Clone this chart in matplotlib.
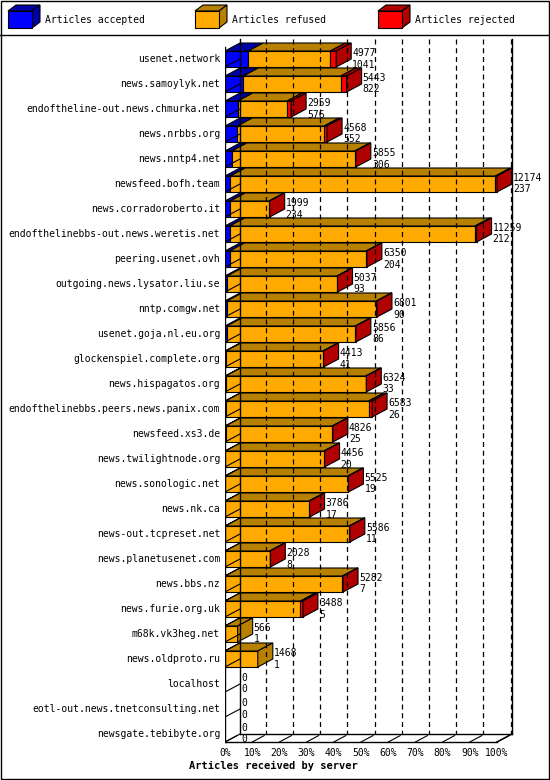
import matplotlib.pyplot as plt
from matplotlib.patches import Polygon, Rectangle

names = ["usenet.network", "news.samoylyk.net", "endoftheline-out.news.chmurka.net",
         "news.nrbbs.org", "news.nntp4.net", "newsfeed.bofh.team", "news.corradoroberto.it",
         "endofthelinebbs-out.news.weretis.net", "peering.usenet.ovh",
         "outgoing.news.lysator.liu.se", "nntp.comgw.net", "usenet.goja.nl.eu.org",
         "glockenspiel.complete.org", "news.hispagatos.org",
         "endofthelinebbs.peers.news.panix.com", "newsfeed.xs3.de", "news.twilightnode.org",
         "news.sonologic.net", "news.nk.ca", "news-out.tcpreset.net", "news.planetusenet.com",
         "news.bbs.nz", "news.furie.org.uk", "m68k.vk3heg.net", "news.oldproto.ru",
         "localhost", "eotl-out.news.tnetconsulting.net", "newsgate.tebibyte.org"]
total = [4977, 5443, 2959, 4568, 5855, 12174, 1999, 11259, 6350, 5037, 6801, 5856, 4413,
         6324, 6583, 4826, 4456, 5525, 3786, 5586, 2028, 5282, 3488, 566, 1468, 0, 0, 0]
accepted = [1041, 822, 576, 552, 306, 237, 234, 212, 204, 93, 90, 86, 41, 33, 26, 25, 20,
            19, 17, 11, 8, 7, 5, 1, 1, 0, 0, 0]
rejected = [260, 260, 180, 130, 40, 70, 25, 70, 30, 25, 25, 25, 25, 25, 150, 25, 25, 25,
            25, 25, 25, 25, 110, 0, 0, 0, 0, 0]

front = {"acc": "#0000ff", "ref": "#ffaa00", "rej": "#ff0000"}
dark = {"acc": "#0000a8", "ref": "#b88000", "rej": "#b00000"}
mono = "DejaVu Sans Mono"

W, H = 550, 780
fig = plt.figure(figsize=(5.5, 7.8), dpi=100)
# frame + legend in pixel coordinates
bg = fig.add_axes([0, 0, 1, 1])
bg.set_xlim(0, W)
bg.set_ylim(H, 0)
bg.axis("off")
bg.add_patch(Rectangle((0.5, 0.5), W - 1.5, H - 1.5, fill=False, lw=1, ec="black"))
bg.plot([0, W], [35, 35], color="black", lw=1)
for lx, lab, k in [(8, "Articles accepted", "acc"), (195, "Articles refused", "ref"),
                   (378, "Articles rejected", "rej")]:
    bg.add_patch(Polygon([(lx, 11), (lx + 8, 5), (lx + 32, 5), (lx + 24, 11)],
                         fc=dark[k], ec="black", lw=0.8))
    bg.add_patch(Polygon([(lx + 24, 11), (lx + 32, 5), (lx + 32, 22), (lx + 24, 28)],
                         fc=dark[k], ec="black", lw=0.8))
    bg.add_patch(Rectangle((lx, 11), 24, 17, fc=front[k], ec="black", lw=0.8))
    bg.text(lx + 37, 20, lab, fontsize=7, family=mono, va="center")
bg.text(273, 766, "Articles received by server", fontsize=7.5, family=mono,
        weight="bold", ha="center", va="center")

# chart axes: x in percent, y in row index
px = 2.72  # pixels per percent
row = 25.0
x0p, x1p, y0p, y1p = 225, 530, 38, 748
ax = fig.add_axes([x0p / W, 1 - y1p / H, (x1p - x0p) / W, (y1p - y0p) / H])
ax.set_xlim(0, (x1p - x0p) / px)
ax.set_ylim((y1p - 59) / row, -(59 - y0p) / row)
ax.axis("off")

n = len(names)
dx = 15 / px
dy = 8 / row
hh = 8 / row
mx = max(total)
floor = n - 1 + 8 / row

# back wall and grid
ax.plot([dx, dx], [-0.8, floor - dy], color="black", lw=1)
ax.plot([100 + dx, 100 + dx], [-0.8, floor - dy], color="black", lw=1)
ax.plot([0, 0], [-0.8 + dy, floor], color="black", lw=1)
for p in range(10, 101, 10):
    ax.plot([p + dx - 0.5, p + dx - 0.5], [-0.8, floor - dy], color="black", lw=0.9,
            ls=(0, (4, 3)))
ax.plot([0, 100], [floor, floor], color="black", lw=1)
ax.plot([dx, 100 + dx], [floor - dy, floor - dy], color="black", lw=1)
ax.plot([100, 100 + dx], [floor, floor - dy], color="black", lw=1)
for p in range(0, 101, 10):
    ax.plot([p, p + 0.8 * dx], [floor, floor - 0.8 * dy], color="black", lw=0.8)
    ax.text(p, floor + 0.45, "%d%%" % p, fontsize=7, family=mono, ha="center", va="center")
for i in range(n):
    ax.plot([0, dx], [i + hh, i + hh - dy], color="black", lw=0.8)

for i in range(n):
    t = total[i]
    segs = [("acc", accepted[i]), ("ref", t - accepted[i] - rejected[i]), ("rej", rejected[i])]
    x = 0.0
    last = None
    for k, v in segs:
        if v <= 0:
            continue
        w = v / mx * 100
        ax.add_patch(Rectangle((x, i - hh), w, 2 * hh, fc=front[k], ec="black", lw=0.8))
        ax.add_patch(Polygon([(x, i - hh), (x + w, i - hh), (x + w + dx, i - hh - dy),
                              (x + dx, i - hh - dy)], fc=dark[k], ec="black", lw=0.8))
        x += w
        last = k
    if last:
        ax.add_patch(Polygon([(x, i - hh), (x + dx, i - hh - dy), (x + dx, i + hh - dy),
                              (x, i + hh)], fc=dark[last], ec="black", lw=0.8))
    ax.text(x + dx + 0.4, i - 0.25, str(t), fontsize=7, family=mono, va="center")
    ax.text(x + dx + 0.4, i + 0.22, str(accepted[i]), fontsize=7, family=mono, va="center")
    ax.text(-1.8, i, names[i], fontsize=7, family=mono, ha="right", va="center")

fig.savefig("out.png", dpi=100)
